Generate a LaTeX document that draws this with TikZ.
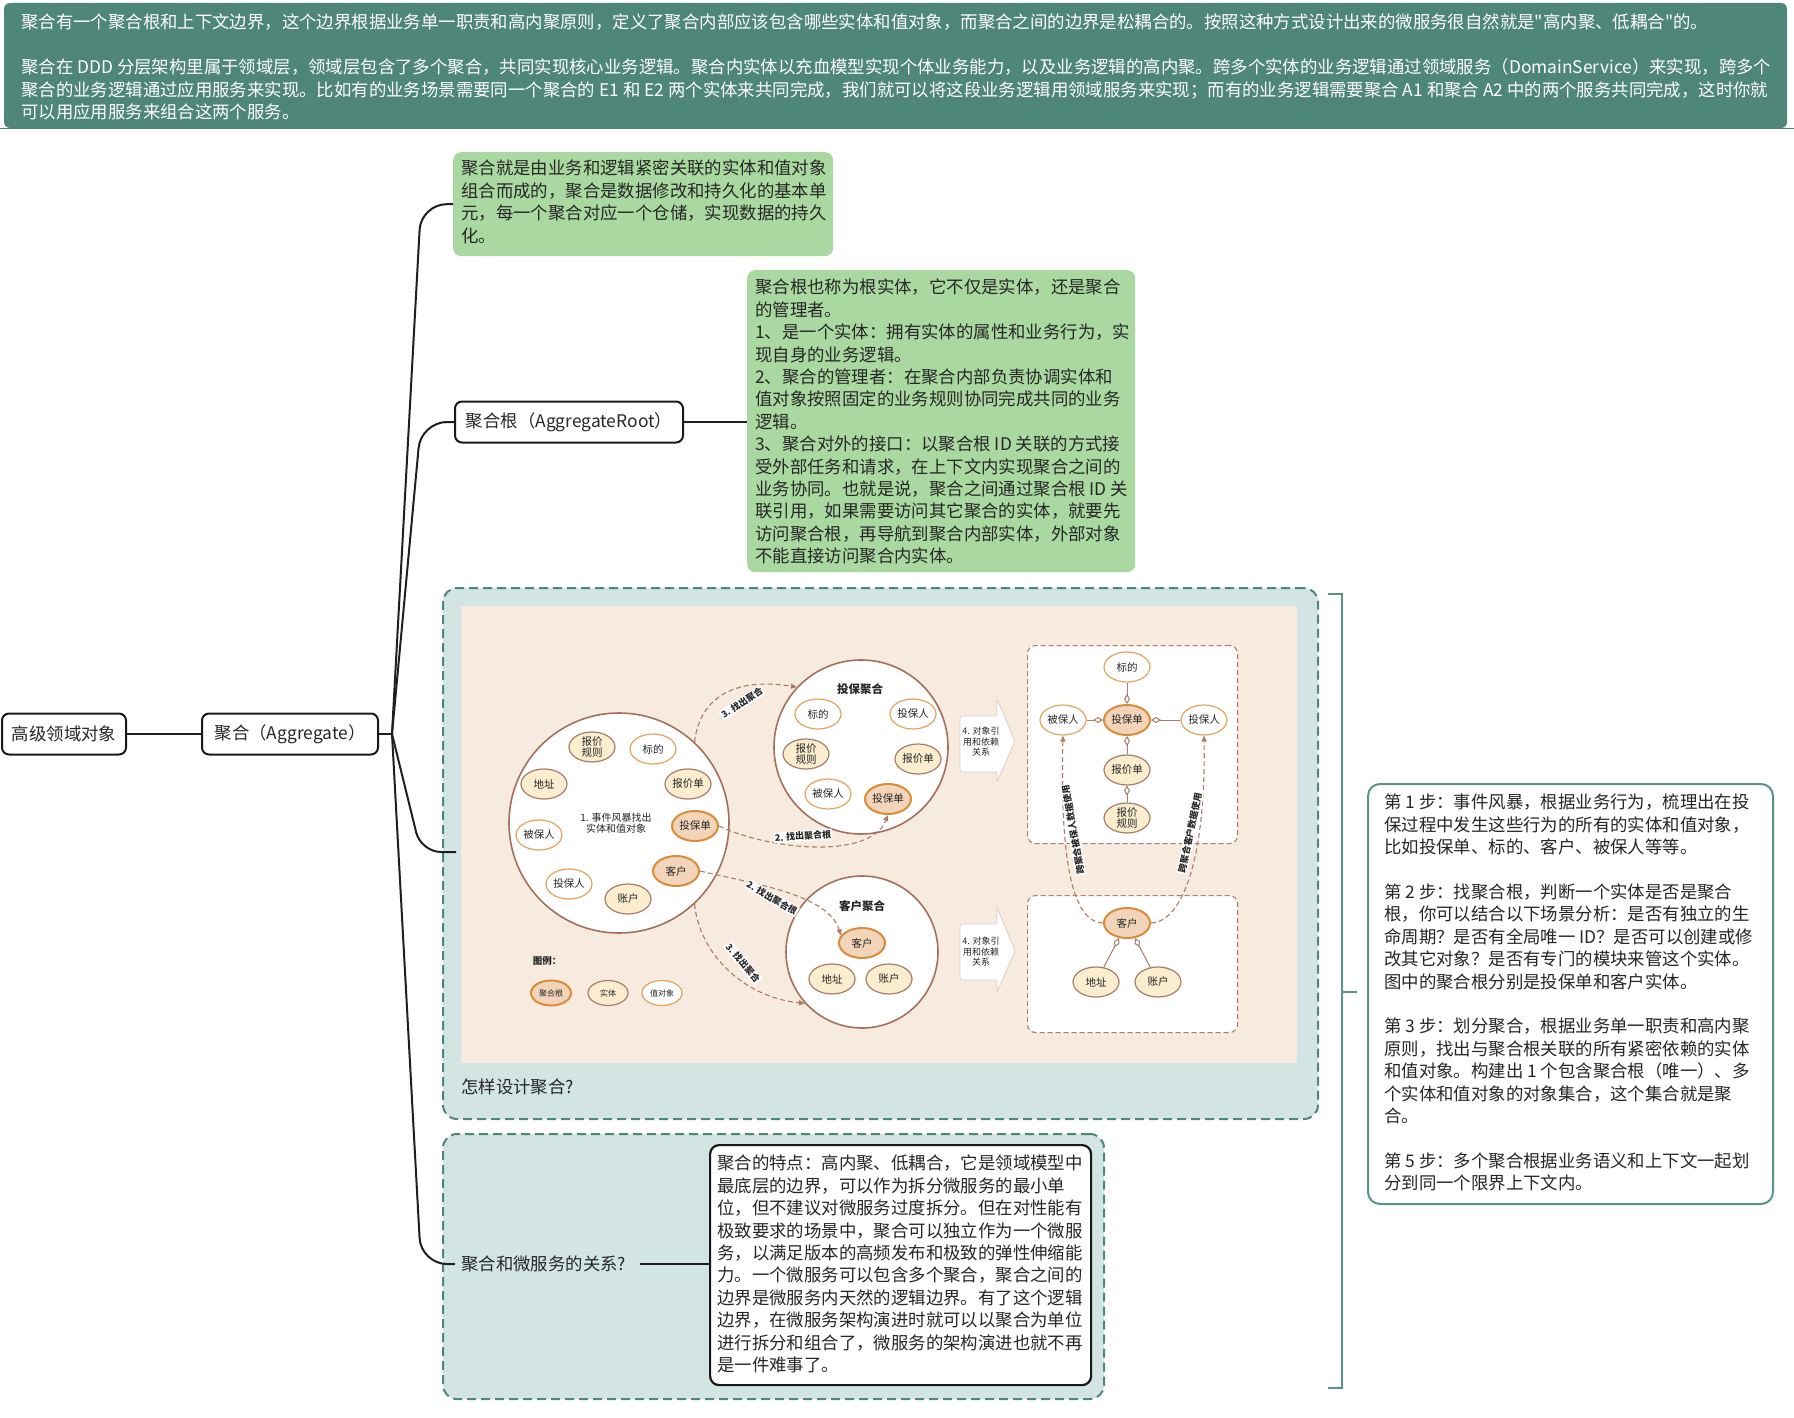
\documentclass[tikz,border=0pt]{standalone}
\usepackage{fontspec}
\setmainfont{Noto Sans CJK SC}
\newfontfamily\plainq{Noto Sans CJK SC}
\usetikzlibrary{arrows.meta,shapes.geometric,calc}
\definecolor{hdr}{HTML}{4E8679}
\definecolor{tealb}{HTML}{4E8679}
\definecolor{tealr}{HTML}{5A9488}
\definecolor{tealfill}{HTML}{D3E5E2}
\definecolor{greenbox}{HTML}{A9D9A0}
\definecolor{peach}{HTML}{F7EADF}
\definecolor{circb}{HTML}{A3705C}
\definecolor{entfill}{HTML}{FBEECF}
\definecolor{entb}{HTML}{A87C6A}
\definecolor{vob}{HTML}{E2A35E}
\definecolor{arfill}{HTML}{F2D4B9}
\definecolor{arb}{HTML}{D98B3C}
\definecolor{dashc}{HTML}{B07A66}
\definecolor{blkb}{HTML}{E2CDBE}
\begin{document}
\begin{tikzpicture}[x=1pt,y=-1pt,
  txt/.style={font=\fontsize{17.4}{22.4}\selectfont, align=left, inner sep=0pt, text=black!85},
  mm/.style={draw=black!90, line width=2pt, rounded corners=7pt, fill=white, minimum height=41pt, inner xsep=8pt, font=\fontsize{17.4}{22.4}\selectfont, text=black!85},
  conn/.style={draw=black!88, line width=2pt},
  gbox/.style={fill=greenbox, rounded corners=8pt, anchor=north west, inner sep=0pt},
  dbox/.style={draw=tealb, fill=tealfill, line width=2pt, dash pattern=on 9pt off 5pt, rounded corners=14pt, anchor=north west, inner sep=0pt},
  wbox/.style={draw=black!90, fill=white, line width=2.2pt, rounded corners=9pt, anchor=north west, inner sep=0pt},
  rbox/.style={draw=tealr, fill=white, line width=2pt, rounded corners=12pt, anchor=north west, inner sep=0pt},
  bigc/.style={circle, draw=circb, fill=white, line width=1.6pt, inner sep=0pt},
  dtxt/.style={font=\fontsize{10}{11.5}\selectfont, align=center, text=black!85, inner sep=0pt},
  dtitle/.style={font=\fontsize{11.5}{12.5}\selectfont\bfseries, text=black!85, inner sep=0pt},
  ell/.style={ellipse, minimum width=46pt, minimum height=30pt, inner sep=0pt, align=center, font=\fontsize{10.5}{11.5}\selectfont, text=black!85},
  ent/.style={ell, draw=entb, fill=entfill, line width=1.2pt},
  vo/.style={ell, draw=vob, fill=white, line width=1.2pt},
  ar/.style={ell, draw=arb, fill=arfill, line width=2pt},
  lgd/.style={minimum width=40pt, minimum height=25pt, font=\fontsize{8}{9}\selectfont},
  darr/.style={draw=dashc, line width=1.1pt, dash pattern=on 5pt off 3pt, -{Triangle[length=6pt,width=5pt]}},
  dlab/.style={fill=white, inner sep=1pt, font=\fontsize{9}{10}\selectfont\bfseries, text=black!85},
  blk/.style={draw=blkb, fill=white, line width=0.8pt, rounded corners=2pt},
  rdash/.style={draw=dashc, fill=white, line width=1.1pt, dash pattern=on 5pt off 3pt, rounded corners=8pt, anchor=north west, inner sep=0pt},
  aggl/.style={draw=entb, line width=1pt, -{Diamond[length=10pt,width=6pt,fill=white]}},
]
\useasboundingbox (0,0) rectangle (1794,1418);

% ---------- header ----------
\fill[hdr, rounded corners=6pt] (4,3) rectangle (1787,128);
\draw[hdr, line width=1pt] (0,128.5) -- (1794,128.5);
\node[txt, text=white, anchor=north west] (head) at (21,14) {聚合有一个聚合根和上下文边界，这个边界根据业务单一职责和高内聚原则，定义了聚合内部应该包含哪些实体和值对象，而聚合之间的边界是松耦合的。按照这种方式设计出来的微服务很自然就是{\plainq"}高内聚、低耦合{\plainq"}的。\\[22.4pt]
聚合在 DDD 分层架构里属于领域层，领域层包含了多个聚合，共同实现核心业务逻辑。聚合内实体以充血模型实现个体业务能力，以及业务逻辑的高内聚。跨多个实体的业务逻辑通过领域服务（DomainService）来实现，跨多个\\
聚合的业务逻辑通过应用服务来实现。比如有的业务场景需要同一个聚合的 E1 和 E2 两个实体来共同完成，我们就可以将这段业务逻辑用领域服务来实现；而有的业务逻辑需要聚合 A1 和聚合 A2 中的两个服务共同完成，这时你就\\
可以用应用服务来组合这两个服务。};

% ---------- mind map nodes ----------
\node[mm, minimum width=124pt] (top) at (64,734) {高级领域对象};
\node[mm, minimum width=176pt] (agg) at (290,734) {聚合（Aggregate）};
\node[mm, minimum width=228pt] (root) at (569,422) {聚合根（AggregateRoot）};

\node[gbox, minimum width=380pt, minimum height=104pt] (g1) at (453,152) {};
\node[txt, anchor=north west] (g1t) at (461,160) {聚合就是由业务和逻辑紧密关联的实体和值对象\\
组合而成的，聚合是数据修改和持久化的基本单\\
元，每一个聚合对应一个仓储，实现数据的持久\\
化。};

\node[gbox, minimum width=388pt, minimum height=302pt] (g2) at (747,270) {};
\node[txt, anchor=north west] (g2t) at (755,279) {聚合根也称为根实体，它不仅是实体，还是聚合\\
的管理者。\\
1、是一个实体：拥有实体的属性和业务行为，实\\
现自身的业务逻辑。\\
2、聚合的管理者：在聚合内部负责协调实体和\\
值对象按照固定的业务规则协同完成共同的业务\\
逻辑。\\
3、聚合对外的接口：以聚合根 ID 关联的方式接\\
受外部任务和请求，在上下文内实现聚合之间的\\
业务协同。也就是说，聚合之间通过聚合根 ID 关\\
联引用，如果需要访问其它聚合的实体，就要先\\
访问聚合根，再导航到聚合内部实体，外部对象\\
不能直接访问聚合内实体。};

% ---------- dashed boxes ----------
\node[dbox, minimum width=875pt, minimum height=531pt] (b3) at (442,587) {};
\fill[peach] (461,606) rectangle (1297,1063);
\node[txt, anchor=west] (q3) at (461,1087) {怎样设计聚合?};

\node[dbox, minimum width=661pt, minimum height=265pt] (b4) at (442,1133) {};
\node[txt, anchor=west] (q4) at (461,1264) {聚合和微服务的关系?};
\node[wbox, minimum width=381pt, minimum height=240pt] (wb) at (709,1144) {};
\node[txt, anchor=north west] (wbt) at (717,1155) {聚合的特点：高内聚、低耦合，它是领域模型中\\
最底层的边界，可以作为拆分微服务的最小单\\
位，但不建议对微服务过度拆分。但在对性能有\\
极致要求的场景中，聚合可以独立作为一个微服\\
务，以满足版本的高频发布和极致的弹性伸缩能\\
力。一个微服务可以包含多个聚合，聚合之间的\\
边界是微服务内天然的逻辑边界。有了这个逻辑\\
边界，在微服务架构演进时就可以以聚合为单位\\
进行拆分和组合了，微服务的架构演进也就不再\\
是一件难事了。};

% ---------- right box & bracket ----------
\node[rbox, minimum width=405pt, minimum height=420pt] (rb) at (1367,783) {};
\node[txt, anchor=north west] (rbt) at (1384,794) {第 1 步：事件风暴，根据业务行为，梳理出在投\\
保过程中发生这些行为的所有的实体和值对象，\\
比如投保单、标的、客户、被保人等等。\\[22.4pt]
第 2 步：找聚合根，判断一个实体是否是聚合\\
根，你可以结合以下场景分析：是否有独立的生\\
命周期？是否有全局唯一 ID？是否可以创建或修\\
改其它对象？是否有专门的模块来管这个实体。\\
图中的聚合根分别是投保单和客户实体。\\[22.4pt]
第 3 步：划分聚合，根据业务单一职责和高内聚\\
原则，找出与聚合根关联的所有紧密依赖的实体\\
和值对象。构建出 1 个包含聚合根（唯一）、多\\
个实体和值对象的对象集合，这个集合就是聚\\
合。\\[22.4pt]
第 5 步：多个聚合根据业务语义和上下文一起划\\
分到同一个限界上下文内。};
\coordinate (bk1) at (1328,594);
\coordinate (bk2) at (1328,1388);
\coordinate (bkm) at (1342,992);
\coordinate (bkt) at (1357,992);
\draw[tealr, line width=2.5pt] (bk1) -- (bk1 -| bkm) -- (bk2 -| bkm) -- (bk2);
\draw[tealr, line width=2.5pt] (bkm) -- (bkt);

% ---------- mind map connectors ----------
\coordinate (br) at (392,734);
\coordinate (e3) at (456,852);
\coordinate (e4) at (455,1264);
\draw[conn] (top) -- (agg);
\draw[conn] (agg.east) -- (br);
\draw[conn, rounded corners=26pt] (br) -- (421,204) -- (g1.west);
\draw[conn, rounded corners=26pt] (br) -- (421,422) -- (root.west);
\draw[conn, rounded corners=20pt] (br) -- (421,852) -- (e3);
\draw[conn, rounded corners=26pt] (br) -- (421,1264) -- (e4);
\draw[conn] (root.east) -- (root.east -| g2.west);
\draw[conn] ([xshift=14pt]q4.east) -- (q4.east -| wb.west);

% ---------- embedded diagram: left circle ----------
\node[bigc, minimum size=220pt] (c1) at (619,823) {};
\node[dtxt] (c1t) at (616,823) {1. 事件风暴找出\\实体和值对象};
\node[ent] (l1) at (592,747) {报价\\规则};
\node[vo]  (l2) at (653,749) {标的};
\node[ent] (l3) at (544,784) {地址};
\node[ent] (l4) at (688,784) {报价单};
\node[vo]  (l5) at (539,835) {被保人};
\node[ar]  (l6) at (695,826) {投保单};
\node[ar]  (l7) at (676,871) {客户};
\node[vo]  (l8) at (569,884) {投保人};
\node[ent] (l9) at (628,899) {账户};

\node[dtxt, font=\fontsize{9.5}{11}\selectfont\bfseries] (lg) at (547,961) {图例：};
\node[ar, lgd]  (lg1) at (551,993) {聚合根};
\node[ent, lgd] (lg2) at (608,993) {实体};
\node[vo, lgd]  (lg3) at (662,993) {值对象};

% ---------- middle circles ----------
\node[bigc, minimum size=174pt] (c2) at (861,747) {};
\node[dtitle] (c2t) at (860,689) {投保聚合};
\node[vo]  (m1) at (818,714) {标的};
\node[vo]  (m2) at (913,714) {投保人};
\node[ent] (m3) at (806,754) {报价\\规则};
\node[ent] (m4) at (918,759) {报价单};
\node[vo]  (m5) at (828,794) {被保人};
\node[ar]  (m6) at (888,799) {投保单};

\node[bigc, minimum size=152pt] (c3) at (862,952) {};
\node[dtitle] (c3t) at (862,906) {客户聚合};
\node[ar]  (n1) at (862,943) {客户};
\node[ent] (n2) at (832,979) {地址};
\node[ent] (n3) at (889,979) {账户};

% dashed arrows between circles
\draw[darr] (c1.47) .. controls (699,703) and (728,676) .. (c2.137);
\draw[darr] (l6.east) .. controls (770,850) and (870,860) .. (m6.south);
\draw[darr] (l7.east) .. controls (760,885) and (828,895) .. (n1.160);
\draw[darr] (c1.-47) .. controls (699,952) and (742,997) .. (c3.222);
\node[dlab, rotate=33]  (a1l) at (742,703) {3. 找出聚合};
\node[dlab, rotate=4]   (a2l) at (803,836) {2. 找出聚合根};
\node[dlab, rotate=-30] (a3l) at (772,898) {2. 找出聚合根};
\node[dlab, rotate=-50] (a4l) at (743,963) {3. 找出聚合};

% block arrows
\draw[blk] (960,716) -- (997,716) -- (997,699) -- (1015,741) -- (997,782) -- (997,772) -- (960,772) -- cycle;
\node[dtxt, font=\fontsize{9}{10.5}\selectfont] (k1) at (981,742) {4. 对象引\\用和依赖\\关系};
\draw[blk] (960,924) -- (997,924) -- (997,907) -- (1015,951) -- (997,992) -- (997,980) -- (960,980) -- cycle;
\node[dtxt, font=\fontsize{9}{10.5}\selectfont] (k2) at (981,952) {4. 对象引\\用和依赖\\关系};

% ---------- right area ----------
\node[rdash, minimum width=210pt, minimum height=198pt] (ub) at (1027,645) {};
\node[rdash, minimum width=210pt, minimum height=137pt] (lb) at (1027,895) {};
\node[vo]  (r1) at (1127,667) {标的};
\node[vo]  (r2) at (1063,720) {被保人};
\node[ar]  (r3) at (1127,720) {投保单};
\node[vo]  (r4) at (1204,720) {投保人};
\node[ent] (r5) at (1127,770) {报价单};
\node[ent] (r6) at (1127,818) {报价\\规则};
\node[ar]  (r7) at (1127,923) {客户};
\node[ent] (r8) at (1096,982) {地址};
\node[ent] (r9) at (1158,982) {账户};

\draw[aggl] (r1) -- (r3);
\draw[aggl] (r2) -- (r3);
\draw[aggl] (r4) -- (r3);
\draw[aggl] (r5) -- (r3);
\draw[aggl] (r6) -- (r5);
\draw[aggl] (r8) -- (r7);
\draw[aggl] (r9) -- (r7);

\draw[darr] (r7.west) .. controls (1072,922) and (1060,860) .. (r2.south);
\draw[darr] (r7.east) .. controls (1182,922) and (1206,860) .. (r4.south);
\node[dlab, rotate=100] (rl1) at (1073,830) {跨聚合被保人数据使用};
\node[dlab, rotate=78]  (rl2) at (1190,833) {跨聚合客户数据使用};

\end{tikzpicture}
\end{document}
